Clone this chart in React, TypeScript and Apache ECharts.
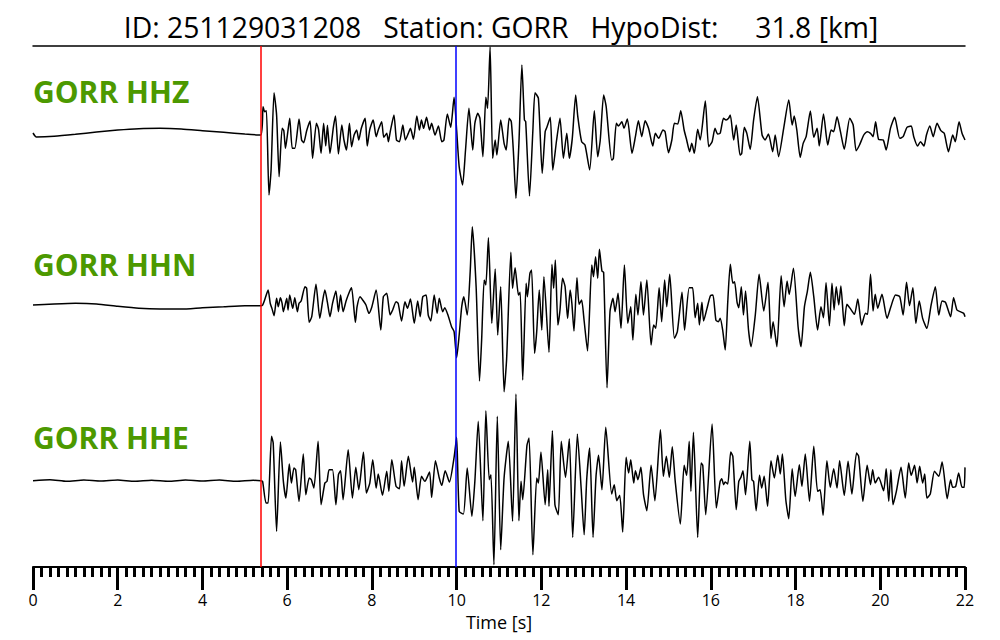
import React, { useEffect, useRef } from "react";
import * as echarts from "echarts";

const titleText = "ID: 251129031208   Station: GORR   HypoDist:     31.8 [km]";
const channelNames = ["GORR HHZ", "GORR HHN", "GORR HHE"];
const pickTimes = [5.37, 9.97];
const pickColors = ["#ff0000", "#0000ff"];
const timeMin = 0;
const timeMax = 22;
const timeStep = 2;

// [time s, amplitude counts]
const hhz: number[][] = [
  [0, 6], [0.08, -6], [0.5, -4], [1.0, 2], [1.5, 9], [2.0, 15], [2.5, 19], [3.0, 20], [3.5, 18], [4.0, 13], [4.5, 8], [5.0, 3], [5.38, 0],
  [5.43, 85], [5.47, 70], [5.51, 73], [5.57, -180], [5.62, -105], [5.69, 127], [5.75, 60], [5.81, -125], [5.88, 20], [5.92, 13], [5.96, -40], [6.01, 5], [6.06, 50], [6.12, -40], [6.18, -40], [6.28, 48], [6.34, -15], [6.39, -23], [6.46, 13], [6.54, 42], [6.6, -70], [6.69, 35], [6.74, 17], [6.8, -55], [6.86, 35], [6.91, -33], [6.95, 29], [7.01, -55], [7.09, 23], [7.14, 57], [7.21, -57], [7.29, 30], [7.34, -15], [7.4, -45], [7.47, 35], [7.52, -35], [7.58, 0], [7.64, 15], [7.69, -15], [7.75, 20], [7.84, 50], [7.89, -33], [7.95, 17], [8.03, 45], [8.1, -5], [8.15, 15], [8.23, 40], [8.28, -7], [8.35, 5], [8.39, -20], [8.43, 8], [8.52, 60], [8.58, -15], [8.65, -20], [8.73, 30], [8.79, -15], [8.86, 5], [8.91, 20], [8.98, -13], [9.06, 57], [9.12, 15], [9.17, 45], [9.22, 20], [9.29, 53], [9.36, 15], [9.41, 35], [9.49, 0], [9.57, 27], [9.65, -20], [9.7, -15], [9.78, 63], [9.86, 23], [9.94, 113], [10.0, 15], [10.06, -95], [10.14, -150], [10.21, -45], [10.29, 80], [10.38, -45], [10.43, 35], [10.5, 65],
  [10.55, 50], [10.62, -65], [10.69, 113], [10.73, 80], [10.79, 265], [10.85, -70], [10.91, -15], [10.95, -60], [11.04, 45], [11.12, -25], [11.17, -45], [11.24, 50], [11.29, 40], [11.34, -50], [11.4, -190], [11.47, -25], [11.54, 210], [11.6, 45], [11.63, 40], [11.72, -183], [11.8, 15], [11.85, 127], [11.93, 110], [12.02, -115], [12.09, 10], [12.13, 23], [12.21, 53], [12.27, -105], [12.36, -15], [12.44, 50], [12.52, -70], [12.6, 5], [12.66, -70], [12.73, -10], [12.81, 120], [12.86, 55], [12.95, -20], [13.03, -30], [13.14, -105], [13.25, 73], [13.33, -65], [13.39, -15], [13.47, 120], [13.53, 85], [13.66, -75], [13.7, -70], [13.77, 35], [13.82, 27], [13.9, 40], [13.95, 20], [14.03, 48], [14.14, -55], [14.22, -5], [14.29, 43], [14.37, -5], [14.45, 43], [14.53, 20], [14.63, -33], [14.69, 5], [14.77, -10], [14.87, 15], [14.92, 10], [15.0, -53], [15.08, -15], [15.14, 35], [15.22, 33], [15.29, 73], [15.37, 15], [15.43, -15], [15.5, -50], [15.55, -25], [15.61, -55], [15.69, 17], [15.75, -15], [15.87, 102], [15.95, -35], [16.03, -20], [16.1, 20], [16.16, 3],
  [16.22, 5], [16.3, 50], [16.36, 45], [16.42, 50], [16.46, 60], [16.54, -15], [16.6, 30], [16.69, -60], [16.73, -55], [16.79, 23], [16.85, 5], [16.93, -43], [17.01, 45], [17.1, 115], [17.21, 0], [17.28, -15], [17.36, 3], [17.46, -50], [17.52, 0], [17.6, -65], [17.72, 20], [17.84, 105], [17.92, 30], [17.97, 57], [18.03, 15], [18.11, -67], [18.18, -25], [18.25, -5], [18.35, 72], [18.43, -7], [18.51, 20], [18.56, -33], [18.66, 63], [18.76, -30], [18.84, 15], [18.9, 10], [18.98, 55], [19.06, 10], [19.15, -43], [19.28, 50], [19.36, 30], [19.43, -47], [19.51, -30], [19.61, 0], [19.69, 10], [19.77, 5], [19.83, -5], [19.89, 40], [19.96, -13], [20.07, -15], [20.14, -45], [20.24, 20], [20.34, 53], [20.46, -10], [20.54, -5], [20.63, 23], [20.73, 27], [20.79, -5], [20.88, -33], [20.95, -20], [21.03, -33], [21.09, 0], [21.17, 27], [21.25, -5], [21.34, 35], [21.43, 13], [21.51, 5], [21.61, -50], [21.71, 0], [21.77, -20], [21.86, 40], [21.93, 5], [22.0, -15],
];

const hhn: number[][] = [
  [0, 2], [0.5, 5], [1.0, 7], [1.5, 5], [2.0, -2], [2.5, -8], [3.0, -10], [3.5, -10], [4.0, -6], [4.5, -3], [5.0, 0], [5.38, 0],
  [5.42, 2], [5.47, 18], [5.55, 47], [5.6, 7], [5.64, -8], [5.69, -30], [5.75, 22], [5.79, -3], [5.84, 24], [5.88, 7], [5.91, -18], [5.99, 22], [6.02, -13], [6.06, 32], [6.13, -8], [6.18, 24], [6.24, -18], [6.28, 7], [6.33, 14], [6.42, 57], [6.46, 52], [6.52, -50], [6.58, -33], [6.68, 64], [6.77, -38], [6.84, 17], [6.89, 47], [6.95, 10], [7.01, -33], [7.07, 7], [7.15, 44], [7.21, -18], [7.26, 32], [7.32, -18], [7.39, 14], [7.47, 42], [7.52, 54], [7.61, -50], [7.65, -3], [7.72, 27], [7.8, 14], [7.86, 2], [7.93, -23], [8.0, -3], [8.1, 47], [8.21, -73], [8.27, 27], [8.35, 37], [8.43, -28], [8.49, -13], [8.57, 12], [8.62, 7], [8.7, -46], [8.78, 12], [8.84, -8], [8.91, 20], [9.0, -53], [9.08, 14], [9.14, -33], [9.2, 27], [9.28, 32], [9.33, -28], [9.39, -46], [9.47, 32], [9.54, -23], [9.59, 22], [9.67, -18], [9.72, -6], [9.8, -30], [9.88, -63], [9.94, -78], [10.0, -156], [10.06, -88], [10.12, -3], [10.17, 27], [10.25, -28], [10.32, 102], [10.37, 237], [10.46, 57],
  [10.54, -226], [10.59, -103], [10.65, 77], [10.69, 62], [10.75, 204], [10.83, -53], [10.91, 110], [10.97, -88], [11.04, 57], [11.12, -258], [11.18, -160], [11.28, 160], [11.32, 52], [11.38, 114], [11.46, 32], [11.5, 40], [11.56, -223], [11.64, 67], [11.67, 27], [11.73, 97], [11.77, 107], [11.84, -143], [11.89, -78], [11.95, 47], [12.01, -73], [12.06, 87], [12.18, -140], [12.25, 124], [12.29, 52], [12.33, 137], [12.39, -58], [12.44, -13], [12.5, 82], [12.56, 57], [12.62, -38], [12.68, 47], [12.72, 7], [12.77, -76], [12.84, 84], [12.89, 4], [12.95, 17], [13.01, -46], [13.09, -136], [13.19, 122], [13.23, 87], [13.28, 147], [13.33, 82], [13.37, 169], [13.43, 104], [13.47, 100], [13.55, -246], [13.62, -18], [13.69, 22], [13.74, -18], [13.81, 37], [13.88, -68], [13.96, 122], [14.04, -53], [14.11, -3], [14.16, -103], [14.23, 34], [14.28, -28], [14.35, 72], [14.41, -28], [14.49, 77], [14.59, -118], [14.65, -58], [14.7, -68], [14.78, 54], [14.84, -48], [14.91, 77], [14.96, -3], [15.03, 94], [15.14, -98], [15.21, -78], [15.32, 40], [15.38, -73], [15.49, 54], [15.57, 54], [15.63, -36], [15.69, 7], [15.73, -58], [15.79, 10], [15.83, -46], [15.91, -8], [15.99, 30], [16.05, 32], [16.12, -43], [16.18, -48],
  [16.22, -38], [16.28, -73], [16.34, -133], [16.4, 12], [16.46, 124], [16.52, 67], [16.56, 72], [16.62, 10], [16.66, -6], [16.72, 57], [16.77, -28], [16.82, 44], [16.89, -73], [16.95, -123], [17.05, -28], [17.14, 94], [17.25, -16], [17.35, 70], [17.42, -98], [17.47, -48], [17.56, -123], [17.66, 90], [17.73, -3], [17.8, 74], [17.85, 34], [17.95, 112], [18.06, -63], [18.13, -123], [18.21, -3], [18.28, 44], [18.35, 100], [18.43, 27], [18.52, -73], [18.6, -3], [18.66, -36], [18.72, 69], [18.8, -60], [18.86, 67], [18.91, -13], [18.96, 57], [19.02, 2], [19.07, 59], [19.15, -60], [19.21, 4], [19.29, -8], [19.39, -26], [19.47, 20], [19.56, -58], [19.65, -23], [19.7, -26], [19.77, 94], [19.83, -16], [19.88, 34], [19.94, -8], [20.04, 34], [20.16, -38], [20.25, -3], [20.36, 32], [20.46, 27], [20.54, -28], [20.62, 70], [20.69, 0], [20.77, 54], [20.84, -53], [20.92, 14], [21.0, -38], [21.1, -68], [21.2, 2], [21.3, 57], [21.38, -28], [21.46, 14], [21.54, 10], [21.66, -33], [21.73, 24], [21.81, -13], [21.89, -18], [21.97, -23], [22.0, -33],
];

const hhe: number[][] = [
  [0, 0], [0.4, 3], [0.8, -2], [1.2, 2], [1.6, -1], [2.0, 2], [2.4, -2], [2.8, 1], [3.2, -2], [3.6, 2], [4.0, -1], [4.4, 2], [4.8, -2], [5.2, 1], [5.38, 0],
  [5.42, -2], [5.5, -67], [5.55, -67], [5.63, 133], [5.67, 113], [5.75, -152], [5.84, 116], [5.91, -2], [5.97, -52], [6.05, 50], [6.1, -7], [6.16, 38], [6.2, 33], [6.28, -62], [6.38, 80], [6.44, -42], [6.52, 8], [6.57, 3], [6.63, -22], [6.73, 118], [6.8, -72], [6.89, -7], [6.94, -2], [6.99, 33], [7.07, 33], [7.15, -72], [7.21, 18], [7.26, 30], [7.32, -57], [7.44, 93], [7.54, -52], [7.62, 40], [7.69, -27], [7.8, 85], [7.87, -37], [7.95, -7], [8.02, 63], [8.1, -22], [8.15, 20], [8.25, -44], [8.35, 28], [8.4, -32], [8.47, 63], [8.57, -17], [8.65, -24], [8.7, 60], [8.76, -17], [8.86, 73], [8.96, -4], [9.0, 40], [9.09, -57], [9.17, 13], [9.25, -2], [9.36, 26], [9.41, -50], [9.5, 60], [9.59, 8], [9.65, -14], [9.73, 30], [9.83, -4], [9.94, 70], [10.0, 130], [10.06, -92], [10.16, -100], [10.25, 38], [10.36, -107], [10.43, -2], [10.51, 178],
  [10.62, -120], [10.69, 210], [10.77, 3], [10.81, 18], [10.88, -252], [10.96, 193], [11.04, -207], [11.12, 8], [11.22, 118], [11.32, -122], [11.4, 260], [11.47, -120], [11.52, -2], [11.56, -57], [11.66, 106], [11.71, 128], [11.8, -222], [11.89, 8], [11.93, -7], [11.99, 86], [12.09, -72], [12.15, 33], [12.18, -77], [12.26, 150], [12.32, -72], [12.4, -102], [12.47, 118], [12.57, 10], [12.66, 126], [12.74, -170], [12.85, 140], [12.94, -24], [13.01, -162], [13.07, 3], [13.14, 98], [13.22, -170], [13.29, 13], [13.35, 76], [13.43, -27], [13.52, 160], [13.66, -40], [13.72, -12], [13.78, -60], [13.85, -44], [13.92, -154], [14.0, 70], [14.06, 23], [14.11, 63], [14.18, -7], [14.22, 30], [14.28, 3], [14.35, 40], [14.41, -40], [14.49, -90], [14.59, 46], [14.68, -60], [14.81, 153], [14.88, 13], [14.95, 73], [15.02, 10], [15.09, 102], [15.16, -2], [15.28, -130], [15.37, 46], [15.43, 16], [15.49, 118], [15.53, -32], [15.59, 145], [15.69, -170], [15.77, 53], [15.81, 46], [15.88, -102], [16.03, 170], [16.13, -82],
  [16.22, -2], [16.26, 6], [16.3, -12], [16.34, -4], [16.4, -10], [16.47, 86], [16.52, 73], [16.6, -87], [16.66, -2], [16.71, 10], [16.76, 30], [16.82, -42], [16.92, 118], [16.97, 3], [17.01, -2], [17.07, -90], [17.15, 16], [17.2, -22], [17.26, 13], [17.34, -77], [17.42, 60], [17.5, 8], [17.58, 76], [17.64, 20], [17.69, 80], [17.77, -57], [17.84, -114], [17.92, 36], [17.99, -47], [18.09, 48], [18.15, -17], [18.23, 80], [18.33, -62], [18.43, 103], [18.52, -32], [18.58, -27], [18.65, -104], [18.74, 60], [18.82, -20], [18.9, 36], [18.98, -22], [19.04, 60], [19.15, -44], [19.24, 58], [19.33, -40], [19.44, 83], [19.49, 73], [19.59, -62], [19.69, 46], [19.77, -12], [19.82, 33], [19.88, -7], [19.96, 10], [20.08, -30], [20.14, 36], [20.2, -62], [20.25, 33], [20.3, -72], [20.38, -32], [20.49, 40], [20.59, -52], [20.67, 53], [20.73, 16], [20.81, 46], [20.87, -7], [20.93, 43], [21.0, -7], [21.05, 20], [21.1, -52], [21.18, -40], [21.28, 28], [21.38, 13], [21.46, 56], [21.58, -54], [21.66, 3], [21.71, -20], [21.78, -17], [21.85, 23], [21.93, -20], [21.98, -20], [22.0, 40],
];

const traces = [hhz, hhn, hhe];

const FONT = "Open Sans";
const GRID_LEFT = 33;
const GRID_RIGHT = 35;
const AXIS_TOP = 46;
const AXIS_BOTTOM_Y = 567;
const BASELINES = [135, 305.7, 480.7];
const LABEL_Y = [91.5, 264.8, 437.3];
const HALF = 100;

export default function App() {
  const ref = useRef<HTMLDivElement>(null);
  useEffect(() => {
    const chart = echarts.init(ref.current!, null, { renderer: "svg" });
    const grids: any[] = [
      { left: GRID_LEFT, right: GRID_RIGHT, top: AXIS_TOP, height: AXIS_BOTTOM_Y - AXIS_TOP },
      ...BASELINES.map((b) => ({ left: GRID_LEFT, right: GRID_RIGHT, top: b - HALF, height: HALF * 2 })),
    ];
    const xAxes: any[] = [
      {
        gridIndex: 0,
        type: "value",
        min: timeMin,
        max: timeMax,
        interval: timeStep,
        position: "bottom",
        axisLine: { show: true, lineStyle: { color: "#000", width: 2 } },
        axisTick: { show: true, length: 23, lineStyle: { color: "#000", width: 3 } },
        minorTick: { show: true, splitNumber: 10, length: 10, lineStyle: { color: "#000", width: 3 } },
        axisLabel: { margin: 25, fontSize: 16, color: "#000", fontFamily: FONT },
        splitLine: { show: false },
        minorSplitLine: { show: false },
        name: "Time [s]",
        nameLocation: "middle",
        nameGap: 40,
        nameTextStyle: { fontSize: 18, color: "#000", fontFamily: FONT },
      },
      {
        gridIndex: 0,
        type: "value",
        min: timeMin,
        max: timeMax,
        position: "top",
        axisLine: { show: true, lineStyle: { color: "#000", width: 1.5 } },
        axisTick: { show: false },
        axisLabel: { show: false },
        splitLine: { show: false },
      },
      ...BASELINES.map((_, i) => ({ gridIndex: i + 1, type: "value", min: timeMin, max: timeMax, show: false })),
    ];
    const yAxes: any[] = [
      { gridIndex: 0, type: "value", min: 0, max: 1, show: false },
      ...BASELINES.map((_, i) => ({ gridIndex: i + 1, type: "value", min: -300, max: 300, show: false })),
    ];
    const series: any[] = [
      {
        type: "line",
        xAxisIndex: 0,
        yAxisIndex: 0,
        data: [[0, 0.5]],
        showSymbol: false,
        lineStyle: { opacity: 0 },
        z: 1,
        markLine: {
          silent: true,
          symbol: ["none", "none"],
          label: { show: false },
          data: pickTimes.map((t, i) => ({ xAxis: t, lineStyle: { color: pickColors[i], width: 1.5, type: "solid" } })),
        },
      },
      ...traces.map((d, i) => ({
        type: "line",
        xAxisIndex: i + 2,
        yAxisIndex: i + 1,
        data: d,
        showSymbol: false,
        smooth: 0.2,
        clip: false,
        z: 3,
        lineStyle: { color: "#000", width: 1.5 },
      })),
    ];
    const graphic: any[] = [
      {
        type: "text",
        x: 501,
        y: 27,
        style: { text: titleText, fill: "#000", fontSize: 28.3, fontFamily: FONT, align: "center", verticalAlign: "middle" },
      },
      ...channelNames.map((n, i) => ({
        type: "text",
        x: GRID_LEFT,
        y: LABEL_Y[i],
        style: { text: n, fill: "#4C9900", fontSize: 30, fontWeight: "bold", fontFamily: FONT, align: "left", verticalAlign: "middle" },
      })),
    ];
    chart.setOption({
      animation: false,
      backgroundColor: "#fff",
      grid: grids,
      xAxis: xAxes,
      yAxis: yAxes,
      series,
      graphic,
    });
    return () => chart.dispose();
  }, []);
  return <div ref={ref} style={{ position: "absolute", left: 0, top: 0, width: 1000, height: 640 }} />;
}
